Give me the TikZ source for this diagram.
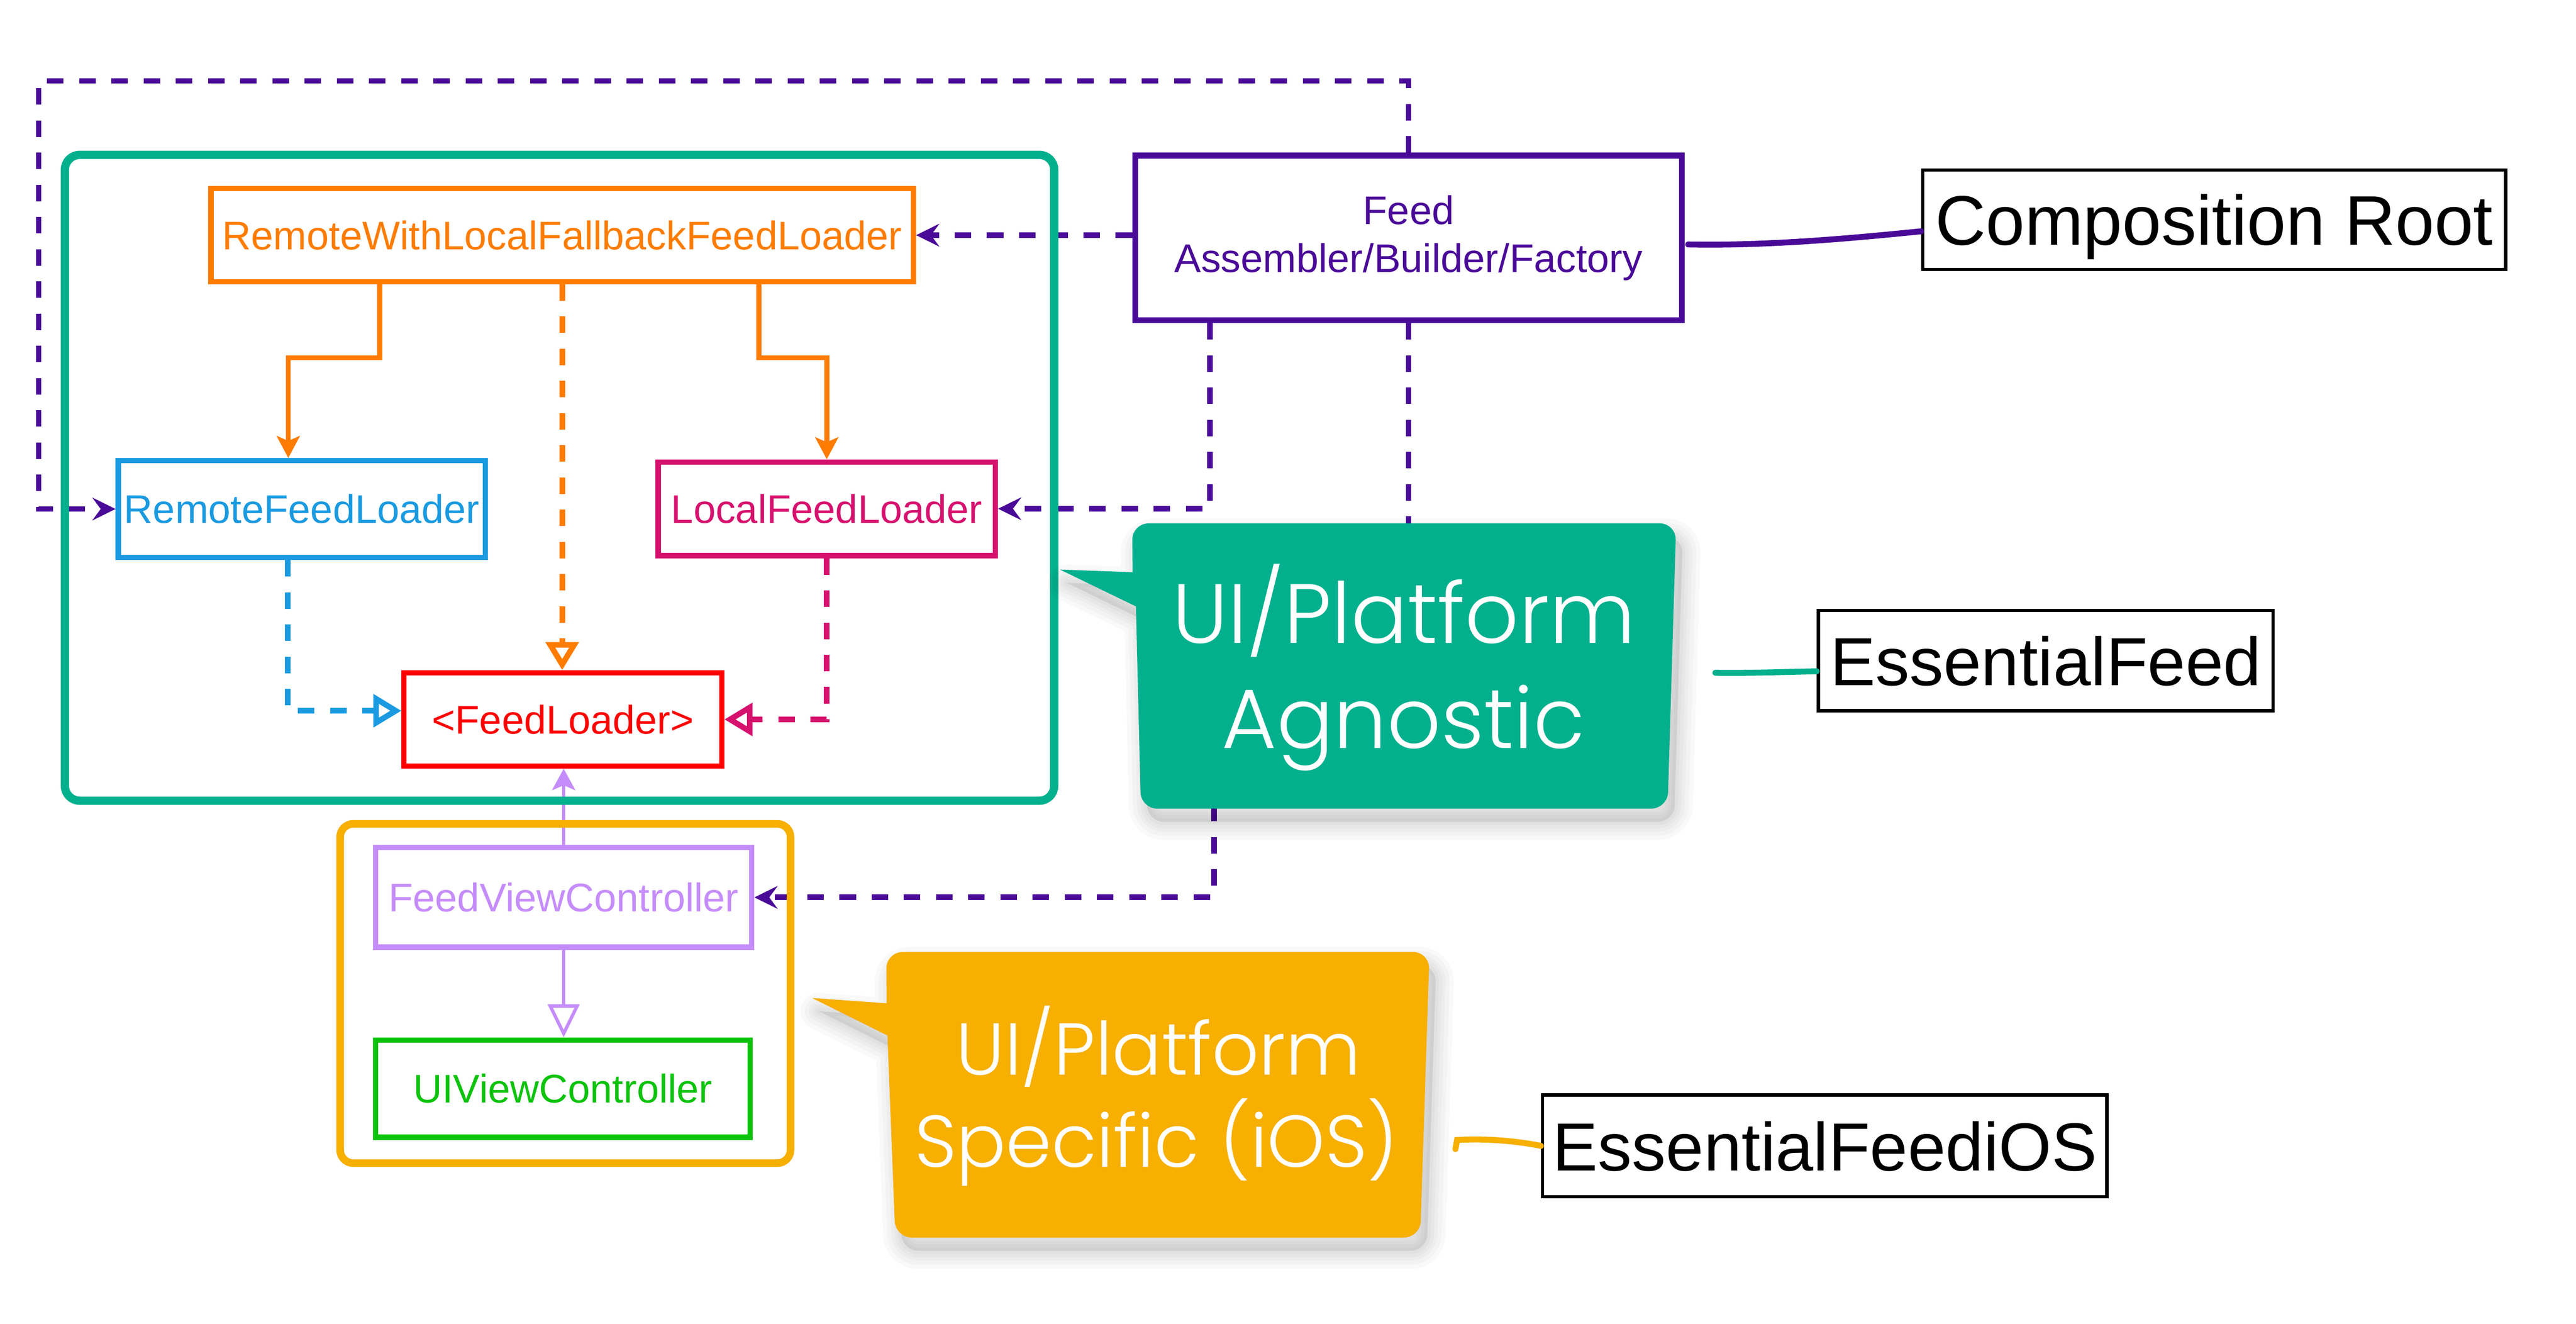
\documentclass[tikz,border=0pt]{standalone}
\usepackage{fontspec}
\setmainfont{Liberation Sans}
\newfontfamily\calloutfont{Poppins Light}
\usetikzlibrary{arrows.meta,calc}
\definecolor{cTeal}{HTML}{03B08E}
\definecolor{cPurple}{HTML}{4A0A98}
\definecolor{cOrange}{HTML}{FF7C00}
\definecolor{cBlue}{HTML}{1A9AE0}
\definecolor{cCrimson}{HTML}{D6116E}
\definecolor{cRed}{HTML}{FF0000}
\definecolor{cLilac}{HTML}{C58CFB}
\definecolor{cGreen}{HTML}{0DC30D}
\definecolor{cAmber}{HTML}{F7AF00}
\newcommand\agnshape{(686,346.6) [rounded corners=10pt] -- (685.7,317) -- (1015.2,317) -- (1010,489.8) -- (691,489.8) [sharp corners] -- (688,367.3) -- (642,345) -- cycle}
\newcommand\specshape{(537,607.7) [rounded corners=10pt] -- (536.8,576.6) -- (865.8,576.6) -- (860.2,749.6) -- (542.3,749.6) [sharp corners] -- (537.5,627.2) -- (491.9,604.5) -- cycle}
\begin{document}
\begin{tikzpicture}[x=1pt,y=-1pt,
  umlbox/.style={draw, line width=3.2pt, inner sep=0pt, fill=white, font=\fontsize{24.2}{29.1}\selectfont, align=center},
  bigtag/.style={draw=black, line width=2pt, inner sep=0pt, fill=white, text depth=0pt, font=\fontsize{41.2}{48}\selectfont},
  dep/.style={line width=3.4pt, dash pattern=on 10pt off 9.5pt},
  purpdep/.style={dep, draw=cPurple, -{Stealth[length=14pt,width=13.7pt,inset=5pt]}},
  realize/.style={dep, -{Triangle[open,length=17pt,width=19.5pt]}},
  owns/.style={line width=3pt, draw=cOrange, -{Stealth[length=13.3pt,width=13.9pt,inset=3pt]}},
  calltext/.style={text=white, inner sep=0pt, anchor=base},
  tagline/.style={line width=3.6pt, line cap=round}
]
\useasboundingbox (0,0) rectangle (1560.2,801.8);
\fill[white] (0,0) rectangle (1560.2,801.8);

% ---------- nodes ----------
\node[umlbox, draw=cOrange, text=cOrange, minimum width=425.5pt, minimum height=56.3pt] (rwlf) at (340.5,142.45) {RemoteWithLocalFallbackFeedLoader};
\node[umlbox, draw=cBlue, text=cBlue, minimum width=222.4pt, minimum height=58.6pt] (remote) at (182.8,308.3) {RemoteFeedLoader};
\node[umlbox, draw=cCrimson, text=cCrimson, minimum width=204.3pt, minimum height=56.7pt] (lfl) at (500.75,308.15) {LocalFeedLoader};
\node[umlbox, draw=cRed, text=cRed, minimum width=192.5pt, minimum height=56.5pt] (fl) at (340.95,435.75) {<FeedLoader>};
\node[umlbox, draw=cLilac, text=cLilac, minimum width=227.8pt, minimum height=60.3pt] (fvc) at (341.4,543.55) {FeedViewController};
\node[umlbox, draw=cGreen, text=cGreen, minimum width=227pt, minimum height=58.9pt] (uivc) at (340.9,659.35) {UIViewController};
\node[umlbox, draw=cPurple, text=cPurple, line width=3.6pt, minimum width=331.2pt, minimum height=99.7pt] (feed) at (853.1,144.05) {Feed\\Assembler/Builder/Factory};

% ---------- connectors (under module frames) ----------
\draw[purpdep] (feed.north) |- (23.4,49) |- (remote.west);
\draw[purpdep] (feed.west |- rwlf.east) -- (rwlf.east);
\draw[purpdep] ([xshift=-120.3pt]feed.south) |- (lfl.east);
\draw[purpdep] (feed.south) |- (735.4,470) |- (fvc.east);

\draw[owns] ([xshift=-110.6pt]rwlf.south) -- ++(0,44.5) -| ([xshift=-8.2pt]remote.north);
\draw[owns] ([xshift=119.1pt]rwlf.south) -- ++(0,44.5) -| (lfl.north);
\draw[realize, draw=cOrange] (rwlf.south) -- (rwlf.south |- fl.north);
\draw[realize, draw=cBlue] ([xshift=-8.6pt]remote.south) |- ([yshift=5.25pt]fl.west);
\draw[realize, draw=cCrimson] (lfl.south) |- (fl.east);

\draw[line width=2pt, draw=cLilac, -{Stealth[length=13pt,width=14pt,inset=3pt]}] (fvc.north) -- (fvc.north |- fl.south);
\draw[line width=2pt, draw=cLilac, -{Triangle[open,length=20pt,width=19pt]}] (fvc.south) -- (fvc.south |- uivc.north);

% ---------- module frames ----------
\draw[cTeal, line width=5pt, rounded corners=9pt] (39.3,93.8) rectangle (638.5,485);
\draw[cAmber, line width=4.6pt, rounded corners=8pt] (206,499) rectangle (478.8,704.5);

% redraw the controller box on top of the frames
\node[umlbox, draw=cLilac, text=cLilac, minimum width=227.8pt, minimum height=60.3pt] at (fvc) {FeedViewController};

% ---------- callouts (soft shadow, then shape) ----------
\foreach \w in {22,17,12,8,4} {
  \draw[black, opacity=0.022, line width=\w pt, line join=round, shift={(4,8)}] \agnshape;
  \draw[black, opacity=0.022, line width=\w pt, line join=round, shift={(4,8)}] \specshape;
}
\fill[black, opacity=0.08, shift={(4,8)}] \agnshape;
\fill[black, opacity=0.08, shift={(4,8)}] \specshape;
\fill[cTeal] \agnshape;
\fill[cAmber] \specshape;

\node[calltext, font=\calloutfont\fontsize{51}{60}\selectfont] (agn1) at (850.3,389.5) {UI/Platform};
\node[calltext, font=\calloutfont\fontsize{51}{60}\selectfont] (agn2) at (850,453.2) {Agnostic};
\node[calltext, font=\calloutfont\fontsize{44.5}{52}\selectfont] (spec1) at (701.6,651) {UI/Platform};
\node[calltext, font=\calloutfont\fontsize{44.5}{52}\selectfont] (spec2) at (700.3,707) {Specific (iOS)};

% ---------- module tags ----------
\node[bigtag, font=\fontsize{42.5}{48}\selectfont, minimum width=353.1pt, minimum height=60.2pt] (cr) at (1341.05,133.1) {Composition Root};
\node[bigtag, minimum width=275.4pt, minimum height=60.6pt] (ef) at (1239,400.1) {EssentialFeed};
\node[bigtag, minimum width=341.8pt, minimum height=61.7pt] (efios) at (1105.2,694.05) {EssentialFeediOS};

\coordinate (agnend) at (1039,407.5);
\coordinate (specend) at (881.5,696);

\draw[tagline, cPurple] ([shift={(2pt,-4pt)}]feed.east) .. controls (1070,149) and (1120,144.5) .. ([yshift=-7pt]cr.west);
\draw[tagline, cTeal] (agnend) .. controls (1060,407.8) and (1080,407) .. ([yshift=-6.5pt]ef.west);
\draw[tagline, cAmber] (specend) -- (882.5,690.5) .. controls (900,689.5) and (918,691) .. (efios.west);
\end{tikzpicture}
\end{document}
